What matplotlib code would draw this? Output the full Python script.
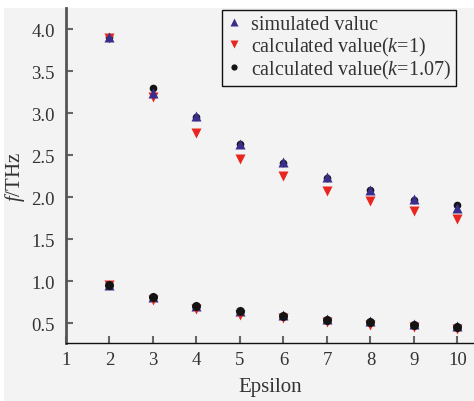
import numpy as np
import matplotlib.pyplot as plt
from matplotlib.patches import Rectangle

plt.rcParams['font.family'] = ['Liberation Serif', 'DejaVu Serif']
plt.rcParams['mathtext.fontset'] = 'custom'
plt.rcParams['mathtext.it'] = 'Liberation Serif:italic'
plt.rcParams['mathtext.rm'] = 'Liberation Serif'

eps = [2, 3, 4, 5, 6, 7, 8, 9, 10]
# upper mode
sim_hi = [3.90, 3.24, 2.96, 2.63, 2.42, 2.24, 2.09, 1.98, 1.87]
k1_hi = [3.89, 3.19, 2.76, 2.45, 2.25, 2.07, 1.95, 1.83, 1.74]
k107_hi = [3.90, 3.30, 2.95, 2.63, 2.41, 2.23, 2.08, 1.97, 1.91]
# lower mode
sim_lo = [0.96, 0.81, 0.71, 0.65, 0.60, 0.55, 0.52, 0.49, 0.47]
k1_lo = [0.95, 0.78, 0.67, 0.60, 0.56, 0.51, 0.48, 0.45, 0.43]
k107_lo = [0.96, 0.81, 0.70, 0.64, 0.59, 0.54, 0.51, 0.48, 0.46]

bg = '#f3f3f3'
navy = '#3a2e8c'
red = '#e8261f'
blk = '#141414'

fig = plt.figure(figsize=(4.74, 4.02), dpi=100, facecolor='white')
fig.patches.append(Rectangle((4 / 474, 0), 1, 1 - 9 / 402, transform=fig.transFigure,
                             facecolor=bg, edgecolor='none', zorder=-10))
ax = fig.add_axes([66 / 474, 1 - 344 / 402, 1 - 66 / 474, (344 - 9) / 402])
ax.set_facecolor(bg)

# upper group: black behind, triangles on top
ax.plot(eps, k107_hi, 'o', color=blk, ms=5.5, mec='none', zorder=2)
ax.plot(eps, k1_hi, 'v', color=red, ms=7, mec='none', zorder=3)
ax.plot(eps, sim_hi, '^', color=navy, ms=7, mec='none', zorder=4)
# lower group: black on top
ax.plot(eps, sim_lo, '^', color=navy, ms=7, mec='none', zorder=2)
ax.plot(eps, k1_lo, 'v', color=red, ms=7, mec='none', zorder=3)
ax.plot(eps, k107_lo, 'o', color=blk, ms=6.5, mec='none', zorder=4)

ax.set_xlim(1, 10.38)
ax.set_ylim(0.264, 4.25)
ax.set_xticks(range(1, 11))
ax.set_yticks([0.5, 1.0, 1.5, 2.0, 2.5, 3.0, 3.5, 4.0])
ax.set_yticklabels(['0.5', '1.0', '1.5', '2.0', '2.5', '3.0', '3.5', '4.0'])
for s in ['top', 'right']:
    ax.spines[s].set_visible(False)
ax.spines['left'].set_color('#555555')
ax.spines['left'].set_linewidth(2.0)
ax.spines['bottom'].set_color('#111111')
ax.spines['bottom'].set_linewidth(1.0)
ax.tick_params(direction='in', length=5, width=1.5, color='#666666',
               labelsize=13.5, labelcolor='#333333', pad=6)
ax.tick_params(axis='y', pad=8)

ax.set_xlabel('Epsilon', fontsize=15, color='#333333', labelpad=6)
ax.set_ylabel(r'$\mathit{f}$/THz', fontsize=15, color='#333333', labelpad=3)

h1, = ax.plot([], [], '^', color=navy, ms=6, mec='none')
h2, = ax.plot([], [], 'v', color=red, ms=6, mec='none')
h3, = ax.plot([], [], 'o', color=blk, ms=4.5, mec='none')
leg = ax.legend([h1, h2, h3],
                ['simulated valuc', r'calculated value($\mathit{k}$=1)',
                 r'calculated value($\mathit{k}$=1.07)'],
                loc='upper right', bbox_to_anchor=(0.962, 1.0), fontsize=14.5,
                frameon=True, fancybox=False, framealpha=1, edgecolor='#111111',
                facecolor=bg, handlelength=0.7, handletextpad=0.5,
                borderpad=0.25, labelspacing=0.02, borderaxespad=0.1)
leg.get_frame().set_linewidth(1.0)
for t in leg.get_texts():
    t.set_color('#333333')

fig.savefig('out.png', dpi=100, facecolor='white')
